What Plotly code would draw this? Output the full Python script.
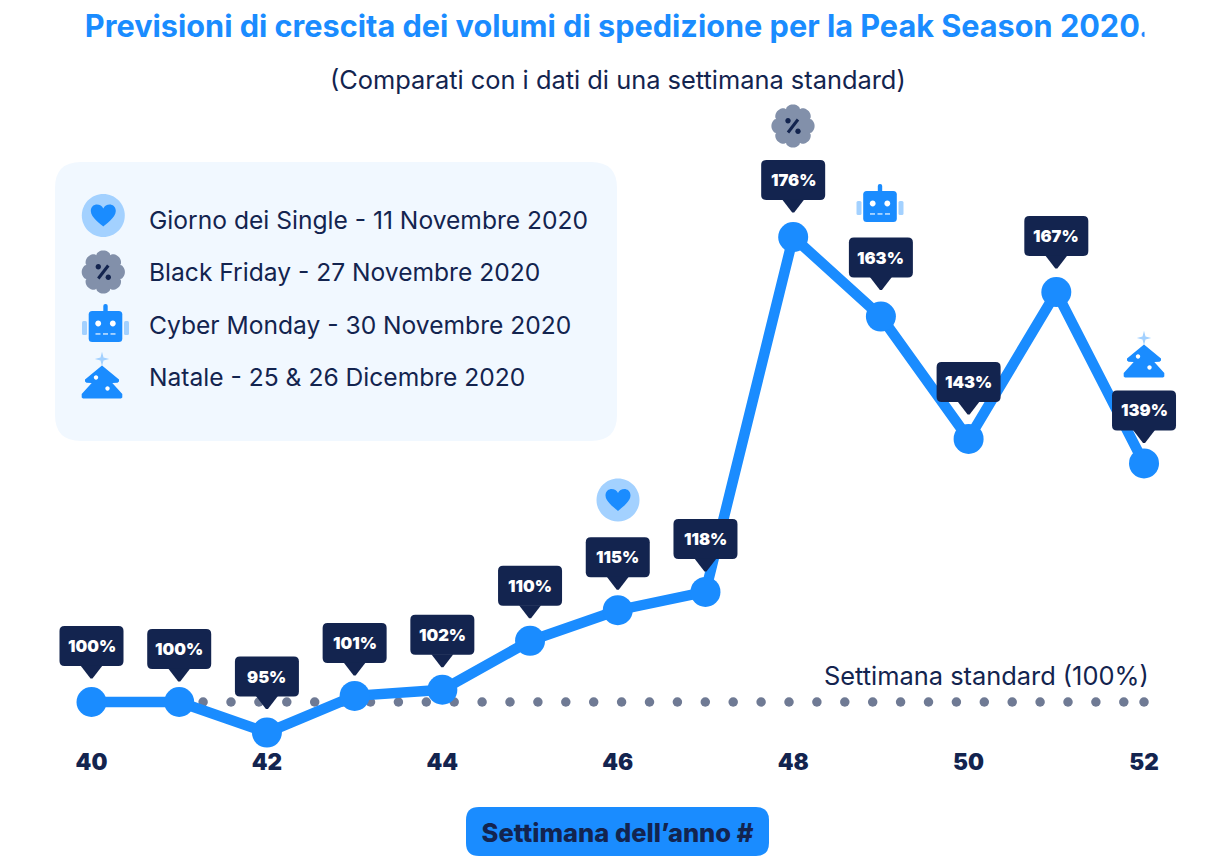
import numpy as np
import plotly.graph_objects as go

# ---------- data ----------
WEEKS = [40, 41, 42, 43, 44, 45, 46, 47, 48, 49, 50, 51, 52]
GROWTH = [100, 100, 95, 101, 102, 110, 115, 118, 176, 163, 143, 167, 139]
TICK_WEEKS = [40, 42, 44, 46, 48, 50, 52]
STANDARD = 100
LEGEND_LABELS = [
    "Giorno dei Single - 11 Novembre 2020",
    "Black Friday - 27 Novembre 2020",
    "Cyber Monday - 30 Novembre 2020",
    "Natale - 25 &amp; 26 Dicembre 2020",
]

# ---------- layout constants ----------
W, H = 1215, 865
FONT = "Inter"
BLUE = "#1a8cff"
LIGHT = "#a3d1ff"
NAVY = "#13244f"
GREY = "#8290aa"
DOT = "#6f7a94"
PANEL = "#f1f8ff"
PX_PER_WEEK = 87.71
PX_PER_PCT = 6.118
X40, Y100 = 91.5, 702.0
LABEL_LIFT = [56, 53, 56, 53, 55, 55, 53, 53, 57, 59, 57, 56, 53]
AXIS_BOTTOM = 740
DOM_LEFT = 20


def fx(px):
    return px / W


def fy(py):
    return 1 - py / H


def fmt(points):
    return " ".join(f"{x:.2f},{-y:.2f}" for x, y in points)


def rrect(x0, y0, x1, y1, r):
    return (
        f"M{fmt([(x0 + r, y0)])} L{fmt([(x1 - r, y0)])} Q{fmt([(x1, y0), (x1, y0 + r)])} "
        f"L{fmt([(x1, y1 - r)])} Q{fmt([(x1, y1), (x1 - r, y1)])} "
        f"L{fmt([(x0 + r, y1)])} Q{fmt([(x0, y1), (x0, y1 - r)])} "
        f"L{fmt([(x0, y0 + r)])} Q{fmt([(x0, y0), (x0 + r, y0)])} Z"
    )


def circle(cx, cy, r):
    k = 0.5523 * r
    return (
        f"M{fmt([(cx + r, cy)])} "
        f"C{fmt([(cx + r, cy + k), (cx + k, cy + r), (cx, cy + r)])} "
        f"C{fmt([(cx - k, cy + r), (cx - r, cy + k), (cx - r, cy)])} "
        f"C{fmt([(cx - r, cy - k), (cx - k, cy - r), (cx, cy - r)])} "
        f"C{fmt([(cx + k, cy - r), (cx + r, cy - k), (cx + r, cy)])} Z"
    )


def poly(points):
    return "M" + " L".join(fmt([p]) for p in points) + " Z"


def heart_icon():
    h = (
        f"M{fmt([(0, 11)])} "
        f"C{fmt([(-2, 9), (-12.5, 2), (-12.5, -4.5)])} "
        f"C{fmt([(-12.5, -9), (-9, -11), (-6.5, -11)])} "
        f"C{fmt([(-3.5, -11), (-1.2, -9.5), (0, -7)])} "
        f"C{fmt([(1.2, -9.5), (3.5, -11), (6.5, -11)])} "
        f"C{fmt([(9, -11), (12.5, -9), (12.5, -4.5)])} "
        f"C{fmt([(12.5, 2), (2, 9), (0, 11)])} Z"
    )
    return [(circle(0, 0, 21.5), LIGHT), (h, BLUE)]


def flower_icon():
    t = np.linspace(0, 2 * np.pi, 161)[:-1]
    r = 18.2 + 3.4 * np.abs(np.cos(4 * t)) ** 0.6
    petals = poly(list(zip(r * np.sin(t), -r * np.cos(t))))
    bar = poly([(3.8, -7.6), (6.2, -5.4), (-3.8, 7.6), (-6.2, 5.4)])
    return [
        (petals, GREY),
        (bar, NAVY),
        (circle(-5, -5.2, 2.7), NAVY),
        (circle(5, 5.2, 2.7), NAVY),
    ]


def robot_icon():
    # origin: centre of the head
    return [
        (rrect(-23.5, -5.5, -18.5, 8.5, 1.5), LIGHT),
        (rrect(18.5, -5.5, 23.5, 8.5, 1.5), LIGHT),
        (rrect(-2.2, -22.5, 2.2, -12, 2), BLUE),
        (rrect(-16.8, -15.5, 16.8, 15.5, 3.5), BLUE),
        (circle(-7.3, -3, 2.9), "#ffffff"),
        (circle(7.3, -3, 2.9), "#ffffff"),
        (poly([(-7.5 - 2.5, 6.5), (-7.5 + 2.5, 6.5), (-7.5 + 2.5, 8.4), (-7.5 - 2.5, 8.4)]), LIGHT),
        (poly([(-2.5, 6.5), (2.5, 6.5), (2.5, 8.4), (-2.5, 8.4)]), LIGHT),
        (poly([(7.5 - 2.5, 6.5), (7.5 + 2.5, 6.5), (7.5 + 2.5, 8.4), (7.5 - 2.5, 8.4)]), LIGHT),
    ]


def tree_icon():
    # origin: centre of the star
    s = 7.2
    q = 1.5
    star = poly([(0, -s), (q, -q), (s, 0), (q, q), (0, s), (-q, q), (-s, 0), (-q, -q)])
    tree = poly([
        (0, 6.5), (17, 20.5), (17, 22.5), (15.5, 23.8), (10.3, 24), (20.3, 35), (20.3, 38.5), (19, 39.5),
        (-19, 39.5), (-20.3, 38.5), (-20.3, 35), (-10.3, 24), (-15.5, 23.8), (-17, 22.5), (-17, 20.5),
    ])
    return [
        (star, LIGHT),
        (tree, BLUE),
        (circle(-6, 18.5, 2.2), "#ffffff"),
        (circle(5.5, 29.5, 2.2), "#ffffff"),
    ]


def pixel_shape(path, color, ax, ay, xref="paper", yref="paper"):
    return dict(
        type="path", path=path, fillcolor=color, line=dict(width=0), layer="above",
        xref=xref, yref=yref, xsizemode="pixel", ysizemode="pixel", xanchor=ax, yanchor=ay,
    )


def callout_path(lift):
    top, bot = -(lift + 20), -(lift - 20)
    return rrect(-32, top, 32, bot, 5), poly([(-11, bot - 0.5), (11, bot - 0.5), (1, bot + 12.5), (-1, bot + 12.5)])


def text(s, px, py, size, color=NAVY, weight=400, anchor="left"):
    return dict(
        text=s, x=fx(px), y=fy(py), xref="paper", yref="paper", showarrow=False,
        xanchor=anchor, yanchor="middle",
        font=dict(family=FONT, size=size, color=color, weight=weight),
    )


shapes = []
annotations = []

# legend panel
shapes.append(pixel_shape(rrect(55, 162, 617, 441, 26), PANEL, 0, 1))

# legend icons and labels
LEGEND_ROWS = [
    (heart_icon, 103.3, 215.5, 220),
    (flower_icon, 103.3, 272, 272),
    (robot_icon, 105.5, 326.5, 325),
    (tree_icon, 102, 359, 377),
]
for (icon, ix, iy, ty), label in zip(LEGEND_ROWS, LEGEND_LABELS):
    for path, color in icon():
        shapes.append(pixel_shape(path, color, fx(ix), fy(iy)))
    annotations.append(text(label, 146.5, ty, 24.6))

# icons beside the peak points
for icon, ix, iy in [
    (heart_icon, 618, 500),
    (flower_icon, 793, 126),
    (robot_icon, 880, 206.5),
    (tree_icon, 1144, 338),
]:
    for path, color in icon():
        shapes.append(pixel_shape(path, color, fx(ix), fy(iy)))

# value callouts, anchored to the data points
for wk, val, lift in zip(WEEKS, GROWTH, LABEL_LIFT):
    for p in callout_path(lift):
        shapes.append(pixel_shape(p, NAVY, wk, val, "x", "y"))
    annotations.append(dict(
        text=f"{val}%", x=wk, y=val, xref="x", yref="y", yshift=lift, showarrow=False,
        xanchor="center", yanchor="middle",
        font=dict(family=FONT, size=16.5, color="#ffffff", weight=900),
    ))

# axis-title pill
shapes.append(pixel_shape(rrect(466, 807, 769, 856, 13), BLUE, 0, 1))

annotations.append(text("(Comparati con i dati di una settimana standard)", 617.5, 80, 25.4, anchor="center"))
annotations.append(text("Settimana standard (100%)", 1151, 675, 25.4, anchor="right"))
# the reference trims the title's final full stop at its right edge
annotations.append(dict(
    text=" ", x=fx(1143.5), y=fy(26), xref="paper", yref="paper", showarrow=False,
    xanchor="left", yanchor="middle", width=24, height=44, bgcolor="#ffffff",
))

# standard-week dotted reference
dot_x = list(np.arange(WEEKS[0], WEEKS[-1], 27.9 / PX_PER_WEEK)) + [WEEKS[-1]]

fig = go.Figure()
fig.add_trace(go.Scatter(
    x=dot_x, y=[STANDARD] * len(dot_x), mode="markers",
    marker=dict(size=9.5, color=DOT), showlegend=False, hoverinfo="skip", cliponaxis=False,
))
fig.add_trace(go.Scatter(
    x=WEEKS, y=GROWTH, mode="lines+markers",
    line=dict(color=BLUE, width=10.5), marker=dict(color=BLUE, size=30),
    showlegend=False, cliponaxis=False,
))

fig.update_layout(
    width=W, height=H, margin=dict(l=0, r=0, t=0, b=0),
    paper_bgcolor="#ffffff", plot_bgcolor="#ffffff",
    title=dict(
        text="Previsioni di crescita dei volumi di spedizione per la Peak Season 2020.",
        x=617 / W, xanchor="center", y=fy(26), yanchor="middle",
        font=dict(family=FONT, size=30.65, color=BLUE, weight=700),
    ),
    xaxis=dict(
        domain=[DOM_LEFT / W, 1],
        range=[WEEKS[0] + (DOM_LEFT - X40) / PX_PER_WEEK, WEEKS[0] + (W - X40) / PX_PER_WEEK],
        tickmode="array", tickvals=TICK_WEEKS, ticktext=[str(t) for t in TICK_WEEKS],
        ticks="outside", ticklen=2, tickcolor="rgba(0,0,0,0)",
        tickfont=dict(family=FONT, size=22.5, color=NAVY, weight=900),
        showgrid=False, zeroline=False, showline=False,
        title=dict(
            text="Settimana dell’anno #", standoff=50,
            font=dict(family=FONT, size=25.5, color=NAVY, weight=800),
        ),
        automargin=False,
    ),
    yaxis=dict(
        domain=[1 - AXIS_BOTTOM / H, 1],
        range=[STANDARD - (AXIS_BOTTOM - Y100) / PX_PER_PCT, STANDARD + Y100 / PX_PER_PCT],
        visible=False,
    ),
    shapes=shapes,
    annotations=annotations,
)

fig.write_html(
    "out.html",
    config=dict(displayModeBar=False),
    post_script="document.body.style.margin='0';document.body.style.overflow='hidden';",
)
